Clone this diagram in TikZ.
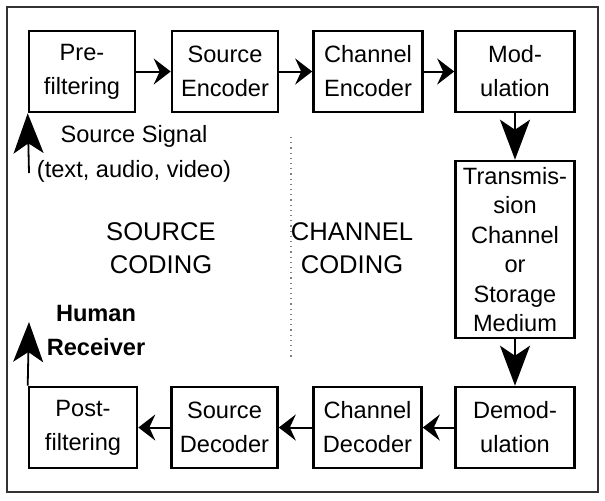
\documentclass[tikz,border=0pt]{standalone}
\usepackage{fontspec}
\setmainfont{Liberation Sans}
\usetikzlibrary{positioning,arrows.meta}

\tikzset{
  blk/.style={draw, line width=1.3pt, align=center, inner sep=0pt,
    minimum width=53pt, minimum height=40.5pt,
    font=\fontsize{11.8}{17}\selectfont},
  harrow/.style={-{Stealth[length=8.5pt,width=13pt,inset=3pt]}, line width=1pt},
  varrow/.style={-{Stealth[length=20pt,width=15pt,inset=5pt]}, line width=0.9pt},
}

\begin{document}
\begin{tikzpicture}[x=0.5pt, y=-0.5pt, node distance=71.5pt, auto]
\useasboundingbox (0,0) rectangle (605,500);
\draw[line width=1pt, black!80] (7,7) rectangle (598,492);

% sender chain
\node[blk] (prefilt) at (82,71.5) {Pre-\\filtering};
\node[blk] (srcenc) [right of=prefilt] {Source\\Encoder};
\node[blk, minimum width=54.5pt] (chenc) [right of=srcenc] {Channel\\Encoder};
\node[blk, minimum width=59.5pt] (modul) [right of=chenc, node distance=73.5pt] {Mod-\\ulation};

% channel
\node[blk, minimum width=59.5pt, minimum height=88.5pt, font=\fontsize{11.8}{14.7}\selectfont] (trans) [below of=modul, node distance=89pt] {Transmis-\\sion\\Channel\\or\\Storage\\Medium};

% receiver chain
\node[blk, minimum width=59.5pt] (demod) [below of=trans, node distance=89pt] {Demod-\\ulation};
\node[blk, minimum width=54pt] (chdec) [left of=demod, node distance=73.75pt] {Channel\\Decoder};
\node[blk] (srcdec) [left of=chdec] {Source\\Decoder};
\node[blk, minimum width=54pt] (postfilt) [left of=srcdec, node distance=70.75pt] {Post-\\filtering};

\draw[harrow] (prefilt) -- (srcenc);
\draw[harrow] (srcenc) -- (chenc);
\draw[harrow] (chenc) -- (modul);
\draw[varrow] (modul) -- (trans);
\draw[varrow] (trans) -- (demod);
\draw[harrow] (demod) -- (chdec);
\draw[harrow] (chdec) -- (srcdec);
\draw[harrow] (srcdec) -- (postfilt);

% input and output
\coordinate (sigin) at (29,173);
\draw[varrow] (sigin) -- (prefilt.south west);
\node[align=center, font=\fontsize{11.8}{17.5}\selectfont] (siglbl) at (134,153.5) {Source Signal\\(text, audio, video)};
\coordinate (rcvout) at (29,322);
\draw[varrow] (postfilt.north west) -- (rcvout);
\node[align=center, font=\fontsize{11.8}{17}\selectfont\bfseries] (rcvlbl) at (96,330) {Human\\Receiver};

% coding regions
\coordinate (divtop) at (291,137);
\coordinate (divbot) at (291,358);
\draw[dotted, gray, line width=0.6pt] (divtop) -- (divbot);
\node[align=center, font=\fontsize{12.8}{16.5}\selectfont] (srccod) at (161,248.5) {SOURCE\\CODING};
\node[align=center, font=\fontsize{12.8}{16.5}\selectfont] (chcod) at (352,248.5) {CHANNEL\\CODING};
\end{tikzpicture}
\end{document}
